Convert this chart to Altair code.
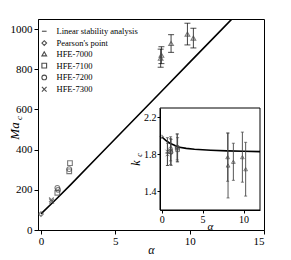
import altair as alt
import pandas as pd

# ---------------- data ----------------
series_names = ["Linear stability analysis", "Pearson's point", "HFE-7000",
                "HFE-7100", "HFE-7200", "HFE-7300"]
series_shapes = ["stroke", "diamond", "triangle-up", "square", "circle",
                 "M-1,-1L1,1M-1,1L1,-1"]

# main panel: linear stability curve
lsa_alpha = [0, 1, 2, 4, 6, 8, 10, 12, 13]
lsa_ma = [80, 152, 226, 378, 530, 682, 834, 986, 1062]

# inset: linear stability k_c
lsa_k_alpha = [0, 0.5, 1, 1.5, 2, 3, 4, 6, 8, 10, 12]
lsa_k = [1.99, 1.95, 1.92, 1.90, 1.88, 1.865, 1.855, 1.845, 1.838, 1.833, 1.83]

pearson_alpha = [0]
pearson_ma = [79.6]
pearson_k = [1.99]

hfe7000_alpha = [8.05, 8.1, 8.75, 9.85, 10.25]
hfe7000_ma = [855, 870, 928, 975, 955]
hfe7000_ma_err = [45, 42, 44, 54, 49]
hfe7000_k = [1.77, 1.68, 1.72, 1.77, 1.64]
hfe7000_k_err = [0.26, 0.35, 0.20, 0.27, 0.29]

hfe7100_alpha = [1.1, 1.9, 1.95]
hfe7100_ma = [185, 292, 333]
hfe7100_k = [1.83, 1.87, 1.85]
hfe7100_k_err = [0.14, 0.15, 0.13]

hfe7200_alpha = [1.1, 1.15, 1.9]
hfe7200_ma = [210, 200, 303]
hfe7200_k = [1.86, 1.82, 1.88]
hfe7200_k_err = [0.13, 0.14, 0.14]

hfe7300_alpha = [0.7, 0.72]
hfe7300_ma = [150, 143]
hfe7300_k = [1.83, 1.80]
hfe7300_k_err = [0.15, 0.12]

main_xlim = [-0.2, 15]
main_ylim = [0, 1050]
inset_xlim = [-0.2, 12]
inset_ylim = [1.2, 2.3]

# ---------------- tables ----------------
rows = []
for name, a_list, m_list, k_list, ke_list in [
    ("Pearson's point", pearson_alpha, pearson_ma, pearson_k, [0]),
    ("HFE-7000", hfe7000_alpha, hfe7000_ma, hfe7000_k, hfe7000_k_err),
    ("HFE-7100", hfe7100_alpha, hfe7100_ma, hfe7100_k, hfe7100_k_err),
    ("HFE-7200", hfe7200_alpha, hfe7200_ma, hfe7200_k, hfe7200_k_err),
    ("HFE-7300", hfe7300_alpha, hfe7300_ma, hfe7300_k, hfe7300_k_err),
]:
    for a, m, k, ke in zip(a_list, m_list, k_list, ke_list):
        rows.append({"series": name, "alpha": a, "ma": m, "k": k,
                     "klo": k - ke, "khi": k + ke, "has_err": ke > 0})
pts = pd.DataFrame(rows)

ma_err = pd.DataFrame({
    "alpha": hfe7000_alpha,
    "lo": [m - e for m, e in zip(hfe7000_ma, hfe7000_ma_err)],
    "hi": [m + e for m, e in zip(hfe7000_ma, hfe7000_ma_err)],
})
lsa_df = pd.DataFrame({"alpha": lsa_alpha, "ma": lsa_ma})
lsa_k_df = pd.DataFrame({"alpha": lsa_k_alpha, "k": lsa_k})
box_df = pd.DataFrame({"x": [inset_xlim[0]], "x2": [inset_xlim[1]],
                       "y": [inset_ylim[0]], "y2": [inset_ylim[1]]})

SERIF = "Liberation Serif"
MARK_COL = "#444444"

legend = alt.Legend(title=None, orient="none", legendX=2, legendY=8,
                    labelFont=SERIF, labelFontSize=8.5, labelColor="black",
                    symbolSize=22, symbolStrokeColor="black",
                    symbolFillColor="transparent", symbolStrokeWidth=1.1,
                    rowPadding=1.8, labelOffset=8)
shape_enc = alt.Shape("series:N",
                      scale=alt.Scale(domain=series_names, range=series_shapes),
                      legend=legend)

# ---------------- main panel ----------------
mx = alt.Scale(domain=main_xlim, nice=False, zero=False)
my = alt.Scale(domain=main_ylim, nice=False, zero=False)
x_axis = alt.Axis(values=[0, 5, 10, 15], title="α", titleFont=SERIF,
                  titleFontStyle="italic", titleFontWeight="normal",
                  titleFontSize=12, titlePadding=-2, labelFont=SERIF,
                  labelFontSize=11, tickSize=4, grid=False, labelPadding=1)
y_axis = alt.Axis(values=[0, 200, 400, 600, 800, 1000], format="d", title=None,
                  labelFont=SERIF, labelFontSize=11, tickSize=4, grid=False,
                  labelPadding=2)

main_line = alt.Chart(lsa_df).mark_line(color="black", strokeWidth=1.6, clip=True).encode(
    x=alt.X("alpha:Q", scale=mx, axis=x_axis),
    y=alt.Y("ma:Q", scale=my, axis=y_axis),
)
main_err = alt.Chart(ma_err).mark_rule(color=MARK_COL, strokeWidth=1).encode(
    x="alpha:Q", y="lo:Q", y2="hi:Q")
main_cap_lo = alt.Chart(ma_err).mark_tick(color="black", orient="horizontal",
                                          size=6, thickness=1).encode(x="alpha:Q", y="lo:Q")
main_cap_hi = alt.Chart(ma_err).mark_tick(color="black", orient="horizontal",
                                          size=6, thickness=1).encode(x="alpha:Q", y="hi:Q")
main_pts = alt.Chart(pts).mark_point(filled=False, size=22, stroke=MARK_COL,
                                     strokeWidth=1.1).encode(
    x="alpha:Q", y="ma:Q", shape=shape_enc)

lbl = alt.Data(values=[{"t": 1}])
ma_title = alt.Chart(lbl).mark_text(text="Ma", font=SERIF, fontStyle="italic",
                                    fontSize=13, angle=270, baseline="middle",
                                    align="center").encode(
    x=alt.value(-23), y=alt.value(112))
ma_sub = alt.Chart(lbl).mark_text(text="c", font=SERIF, fontStyle="italic",
                                  fontSize=9, angle=270, baseline="middle",
                                  align="center").encode(
    x=alt.value(-19), y=alt.value(99))
k_title = alt.Chart(lbl).mark_text(text="k", font=SERIF, fontStyle="italic",
                                   fontSize=12, angle=270, baseline="middle",
                                   align="center").encode(
    x=alt.value(98), y=alt.value(144))
k_sub = alt.Chart(lbl).mark_text(text="c", font=SERIF, fontStyle="italic",
                                 fontSize=8, angle=270, baseline="middle",
                                 align="center").encode(
    x=alt.value(102), y=alt.value(136))

main_layer = alt.layer(main_line, main_err, main_cap_lo, main_cap_hi, main_pts,
                       ma_title, ma_sub, k_title, k_sub)

# ---------------- inset ----------------
ix = alt.Scale(domain=inset_xlim, range=[122, 222], nice=False, zero=False)
iy = alt.Scale(domain=inset_ylim, range=[191, 89], nice=False, zero=False)
ix_axis = alt.Axis(orient="bottom", offset=-20, values=[0, 5, 10], title="α",
                   titleFont=SERIF, titleFontStyle="italic", titleFontWeight="normal",
                   titleFontSize=11, titlePadding=-4, labelFont=SERIF,
                   labelFontSize=10, tickSize=3, grid=False, labelPadding=1, zindex=2)
iy_axis = alt.Axis(orient="left", offset=-122, values=[1.4, 1.8, 2.2], format=".1f",
                   title=None, labelFont=SERIF, labelFontSize=10, tickSize=3,
                   grid=False, labelPadding=1, zindex=2)

inset_box = alt.Chart(box_df).mark_rect(fill="white", stroke="black",
                                        strokeWidth=1).encode(
    x=alt.X("x:Q", scale=ix, axis=ix_axis), x2="x2:Q",
    y=alt.Y("y:Q", scale=iy, axis=iy_axis), y2="y2:Q")
inset_line = alt.Chart(lsa_k_df).mark_line(color="black", strokeWidth=1.6).encode(
    x="alpha:Q", y="k:Q")
err_pts = pts[pts["has_err"]]
inset_err = alt.Chart(err_pts).mark_rule(color=MARK_COL, strokeWidth=0.9).encode(
    x="alpha:Q", y="klo:Q", y2="khi:Q")
inset_cap_lo = alt.Chart(err_pts).mark_tick(color=MARK_COL, orient="horizontal",
                                            size=3, thickness=1).encode(x="alpha:Q", y="klo:Q")
inset_cap_hi = alt.Chart(err_pts).mark_tick(color=MARK_COL, orient="horizontal",
                                            size=3, thickness=1).encode(x="alpha:Q", y="khi:Q")
inset_pts = alt.Chart(pts).mark_point(filled=False, size=14, stroke=MARK_COL,
                                      strokeWidth=1).encode(
    x="alpha:Q", y="k:Q", shape=shape_enc)

inset_layer = alt.layer(inset_box, inset_line, inset_err, inset_cap_lo,
                        inset_cap_hi, inset_pts)

chart = alt.layer(main_layer, inset_layer).resolve_scale(
    x="independent", y="independent"
).properties(
    width=226, height=211,
    autosize=alt.AutoSizeParams(type="none"),
    padding={"left": 30, "top": 11, "right": 19, "bottom": 30},
).configure_view(stroke="black", strokeWidth=1).configure_axis(
    domainColor="black", tickColor="black", labelColor="black", titleColor="black"
)

chart.save("out.html", embed_options={"renderer": "svg", "actions": False})
